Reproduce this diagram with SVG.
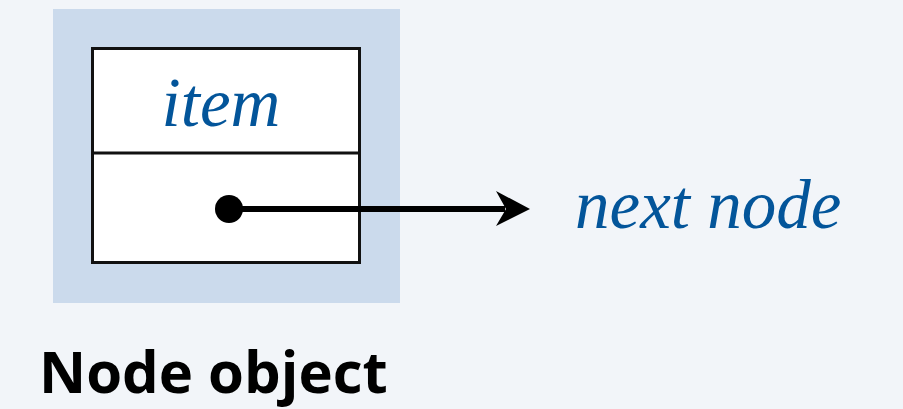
<svg xmlns="http://www.w3.org/2000/svg" width="903" height="409" viewBox="0 0 903 409">
<defs>
<style>
.it{font-family:"Liberation Serif","Times New Roman",serif;font-style:italic;fill:#03559a;font-size:69px}
.bx{fill:#fff;stroke:#111;stroke-width:3}
</style>
</defs>
<rect x="0" y="0" width="903" height="409" fill="#f2f5f9"/>
<g id="node">
<rect x="53" y="9" width="347" height="294" fill="#cbdaec"/>
<rect class="bx" x="92.5" y="48.5" width="267" height="214"/>
<line x1="92" y1="153" x2="360" y2="153" stroke="#111" stroke-width="3"/>
<text class="it" x="221" y="126" text-anchor="middle">item</text>
</g>
<g id="connectors">
<circle cx="229" cy="209" r="14" fill="#000"/>
<line x1="229" y1="209" x2="505" y2="209" stroke="#000" stroke-width="6"/>
<polygon points="530,209 496,191 506,209 496,226" fill="#000"/>
</g>
<g id="next">
<text class="it" x="575" y="228">next node</text>
</g>
<text x="39" y="393" font-family="Open Sans" font-weight="bold" font-size="58" fill="#000">Node object</text>
</svg>
